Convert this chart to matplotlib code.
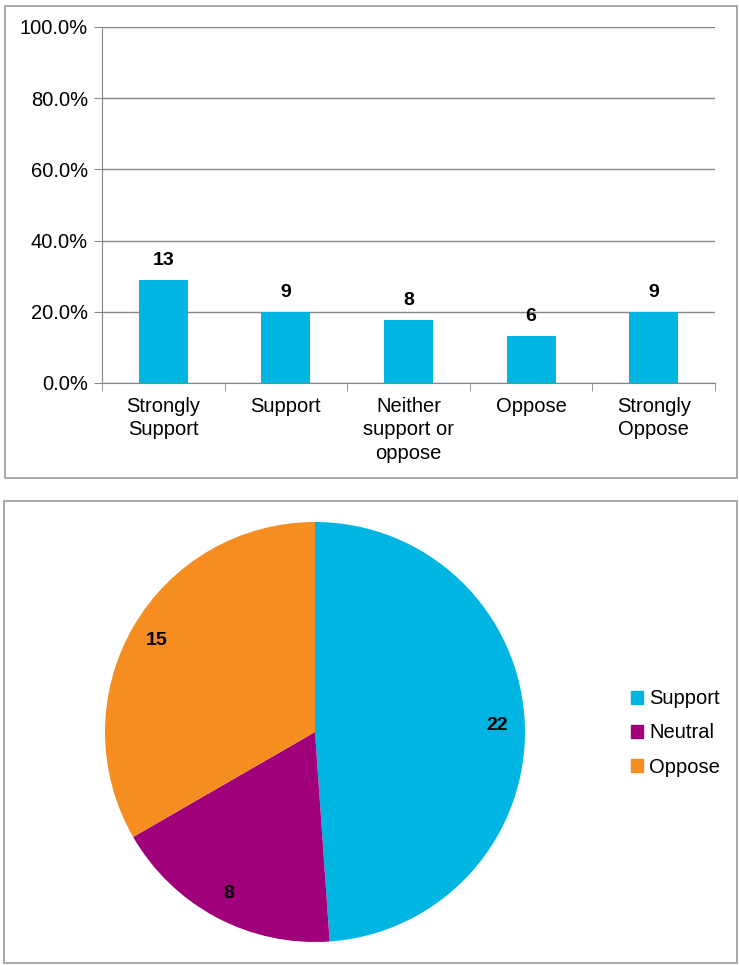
import numpy as np
import matplotlib.pyplot as plt
from matplotlib.patches import Rectangle, Patch

plt.rcParams['font.family'] = ['Liberation Sans', 'DejaVu Sans']

# responses per answer
categories = ['Strongly\nSupport', 'Support', 'Neither\nsupport or\noppose', 'Oppose', 'Strongly\nOppose']
counts = [13, 9, 8, 6, 9]

# grouped responses for the pie
groups = ['Support', 'Neutral', 'Oppose']
group_counts = [22, 8, 15]

blue = '#00B5E2'
purple = '#A0007A'
orange = '#F68D20'
grey = '#868686'
fs = 14.5

W, H = 739, 965
fig = plt.figure(figsize=(W / 100, H / 100), dpi=100)

def fbox(x0, y0, x1, y1):
    # pixel box (top-left origin) -> figure fraction rect
    return [x0 / W, 1 - y1 / H, (x1 - x0) / W, (y1 - y0) / H]

# panel frames
for x0, y0, x1, y1 in [(5, 6, 737, 478), (4, 501, 737, 963)]:
    l, b, w, h = fbox(x0, y0, x1, y1)
    fig.add_artist(Rectangle((l, b), w, h, transform=fig.transFigure,
                             fill=False, edgecolor='#9A9A9A', lw=1.2))

## bar chart
total = sum(counts)
pct = [c / total * 100 for c in counts]
ax = fig.add_axes(fbox(102, 27, 715, 383))
x = np.arange(len(categories))
ax.bar(x, pct, width=0.4, color=blue, zorder=3)
for xi, p, c in zip(x, pct, counts):
    ax.text(xi, p + 3.0, str(c), ha='center', va='bottom', fontsize=14, fontweight='bold')
ax.set_xlim(-0.5, len(categories) - 0.5)
ax.set_ylim(0, 100)
ax.set_yticks(np.arange(0, 101, 20))
ax.set_yticklabels([f'{v:.1f}%' for v in np.arange(0, 101, 20)], fontsize=fs)
ax.set_xticks(x)
ax.set_xticklabels(categories, fontsize=fs, va='top', linespacing=1.3)
ax.set_xticks(np.arange(-0.5, len(categories)), minor=True)
ax.tick_params(axis='x', which='major', length=0, pad=10)
ax.tick_params(axis='x', which='minor', length=6, color=grey)
ax.tick_params(axis='y', length=6, color=grey, pad=4)
ax.yaxis.grid(True, color=grey, lw=1, zorder=0)
for s in ['top', 'right']:
    ax.spines[s].set_visible(False)
ax.spines['left'].set_color(grey)
ax.spines['bottom'].set_color(grey)

## pie chart
pax = fig.add_axes(fbox(105, 522, 525, 942))
wedges, texts = pax.pie(group_counts, colors=[blue, purple, orange], startangle=90,
                        counterclock=False, labels=[str(v) for v in group_counts],
                        labeldistance=0.87, radius=1,
                        textprops=dict(fontsize=14, fontweight='bold', ha='center', va='center'))
pax.set_xlim(-1, 1)
pax.set_ylim(-1, 1)
pax.set_aspect('equal')

handles = [Patch(color=c) for c in [blue, purple, orange]]
fig.legend(handles, groups, loc='center left', bbox_to_anchor=(613 / W, 1 - 733 / H),
           frameon=False, fontsize=fs, handlelength=0.6, handleheight=0.6,
           handletextpad=0.3, labelspacing=0.75)

fig.savefig('out.png', dpi=100)
